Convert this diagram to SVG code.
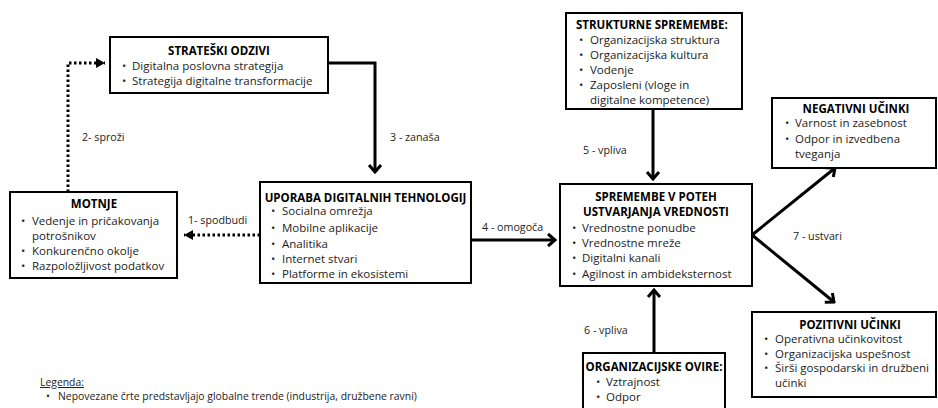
<svg xmlns="http://www.w3.org/2000/svg" width="938" height="408" viewBox="0 0 938 408">
<defs>
<style>
text{font-family:"Open Sans","Noto Sans","Liberation Sans",sans-serif;fill:#222;font-size:11.5px;}
.t{font-weight:bold;fill:#000;}
.l{font-size:10.7px;}
.lg{font-size:10.4px;}
.box{fill:#fff;stroke:#000;stroke-width:2;}
.solid{fill:none;stroke:#000;stroke-width:3;marker-end:url(#chev);}
.dot{fill:none;stroke:#000;stroke-width:3;stroke-dasharray:2.5 2.5;marker-end:url(#tri);}
</style>
<marker id="chev" viewBox="-10 -8 12 16" markerWidth="12" markerHeight="16" refX="0" refY="0" orient="auto" markerUnits="userSpaceOnUse"><path d="M-7,-6 L0,0 L-7,6" fill="none" stroke="#000" stroke-width="3"/></marker>
<marker id="tri" viewBox="-10 -8 12 16" markerWidth="12" markerHeight="16" refX="0" refY="0" orient="auto" markerUnits="userSpaceOnUse"><path d="M-9,-5 L0,0 L-9,5 Z" fill="#000"/></marker>
</defs>
<rect width="938" height="408" fill="#fff"/>

<g id="connectors">
<path class="dot" d="M68,192 V63 H105"/>
<path class="solid" d="M328,63 H375 V172"/>
<path class="dot" d="M260,235 H184"/>
<path class="solid" d="M471,240 H555"/>
<path class="solid" d="M653,109 V179"/>
<path class="solid" d="M654,353 V290"/>
<path class="solid" d="M752,235 L835,168"/>
<path class="solid" d="M752,235 L834,302"/>
<text class="l" x="82" y="141">2- sproži</text>
<text class="l" x="390" y="140.5">3 - zanaša</text>
<text class="l" x="188" y="223.5">1- spodbudi</text>
<text class="l" x="482" y="230.5">4 - omogoča</text>
<text class="l" x="583" y="154">5 - vpliva</text>
<text class="l" x="584" y="333.5">6 - vpliva</text>
<text class="l" x="793" y="240">7 - ustvari</text>
</g>

<g id="strateski">
<rect class="box" x="110" y="37" width="218" height="56"/>
<text class="t" x="219" y="54.7" text-anchor="middle" font-size="11.3">STRATEŠKI ODZIVI</text>
<g font-size="11.4">
<text x="122" y="69.5">•</text><text x="132" y="69.5">Digitalna poslovna strategija</text>
<text x="122" y="85">•</text><text x="132" y="85">Strategija digitalne transformacije</text>
</g>
</g>

<g id="motnje">
<rect class="box" x="10" y="192" width="167" height="86"/>
<text class="t" x="94" y="207.5" text-anchor="middle" font-size="11.3">MOTNJE</text>
<g font-size="11.7">
<text x="21" y="225">•</text><text x="32" y="225">Vedenje in pričakovanja</text>
<text x="32" y="240">potrošnikov</text>
<text x="21" y="255">•</text><text x="32" y="255">Konkurenčno okolje</text>
<text x="21" y="270">•</text><text x="32" y="270">Razpoložljivost podatkov</text>
</g>
</g>

<g id="uporaba">
<rect class="box" x="260" y="182" width="211" height="101"/>
<text class="t" x="365.5" y="201.5" text-anchor="middle">UPORABA DIGITALNIH TEHNOLOGIJ</text>
<g font-size="11.4">
<text x="271" y="215">•</text><text x="282" y="215">Socialna omrežja</text>
<text x="271" y="231.5">•</text><text x="282" y="231.5">Mobilne aplikacije</text>
<text x="271" y="247.5">•</text><text x="282" y="247.5">Analitika</text>
<text x="271" y="263">•</text><text x="282" y="263">Internet stvari</text>
<text x="271" y="278.2">•</text><text x="282" y="278.2">Platforme in ekosistemi</text>
</g>
</g>

<g id="strukturne">
<rect class="box" x="566" y="13" width="176" height="96"/>
<text class="t" x="576" y="29" font-size="12">STRUKTURNE SPREMEMBE:</text>
<g font-size="12">
<text x="579" y="43.5">•</text><text x="590" y="43.5">Organizacijska struktura</text>
<text x="579" y="59">•</text><text x="590" y="59">Organizacijska kultura</text>
<text x="579" y="74">•</text><text x="590" y="74">Vodenje</text>
<text x="579" y="89">•</text><text x="590" y="89">Zaposleni (vloge in</text>
<text x="590" y="104">digitalne kompetence)</text>
</g>
</g>

<g id="spremembe">
<rect class="box" x="560" y="184" width="192" height="102"/>
<text class="t" x="656" y="200.5" text-anchor="middle" font-size="11.6">SPREMEMBE V POTEH</text>
<text class="t" x="656" y="216" text-anchor="middle" font-size="11.6">USTVARJANJA VREDNOSTI</text>
<g font-size="11.6">
<text x="572" y="231.5">•</text><text x="582" y="231.5">Vrednostne ponudbe</text>
<text x="572" y="247">•</text><text x="582" y="247">Vrednostne mreže</text>
<text x="572" y="262">•</text><text x="582" y="262">Digitalni kanali</text>
<text x="572" y="277.5">•</text><text x="582" y="277.5">Agilnost in ambideksternost</text>
</g>
</g>

<g id="negativni">
<rect class="box" x="772" y="98" width="164" height="70"/>
<text class="t" x="856" y="112.5" text-anchor="middle" font-size="11.6">NEGATIVNI UČINKI</text>
<g font-size="11.3">
<text x="785" y="126.5">•</text><text x="795" y="126.5">Varnost in zasebnost</text>
<text x="785" y="142.5">•</text><text x="795" y="142.5">Odpor in izvedbena</text>
<text x="795" y="157.5">tveganja</text>
</g>
</g>

<g id="pozitivni">
<rect class="box" x="752" y="312" width="184" height="85"/>
<text class="t" x="850" y="328.5" text-anchor="middle" font-size="11.6">POZITIVNI UČINKI</text>
<g font-size="11.8">
<text x="764" y="343">•</text><text x="775" y="343">Operativna učinkovitost</text>
<text x="764" y="357.5">•</text><text x="775" y="357.5">Organizacijska uspešnost</text>
<text x="764" y="372">•</text><text x="775" y="372">Širši gospodarski in družbeni</text>
<text x="775" y="386.5">učinki</text>
</g>
</g>

<g id="ovire">
<rect class="box" x="583" y="353" width="142" height="70"/>
<text class="t" x="654" y="371" text-anchor="middle" font-size="11.5">ORGANIZACIJSKE OVIRE:</text>
<g font-size="11.4">
<text x="596" y="386">•</text><text x="606" y="386">Vztrajnost</text>
<text x="596" y="400.5">•</text><text x="606" y="400.5">Odpor</text>
</g>
</g>

<g id="legenda">
<text class="lg" x="40" y="386" text-decoration="underline">Legenda:</text>
<text class="lg" x="46" y="400">•</text><text class="lg" x="58" y="400">Nepovezane črte predstavljajo globalne trende (industrija, družbene ravni)</text>
</g>
</svg>
